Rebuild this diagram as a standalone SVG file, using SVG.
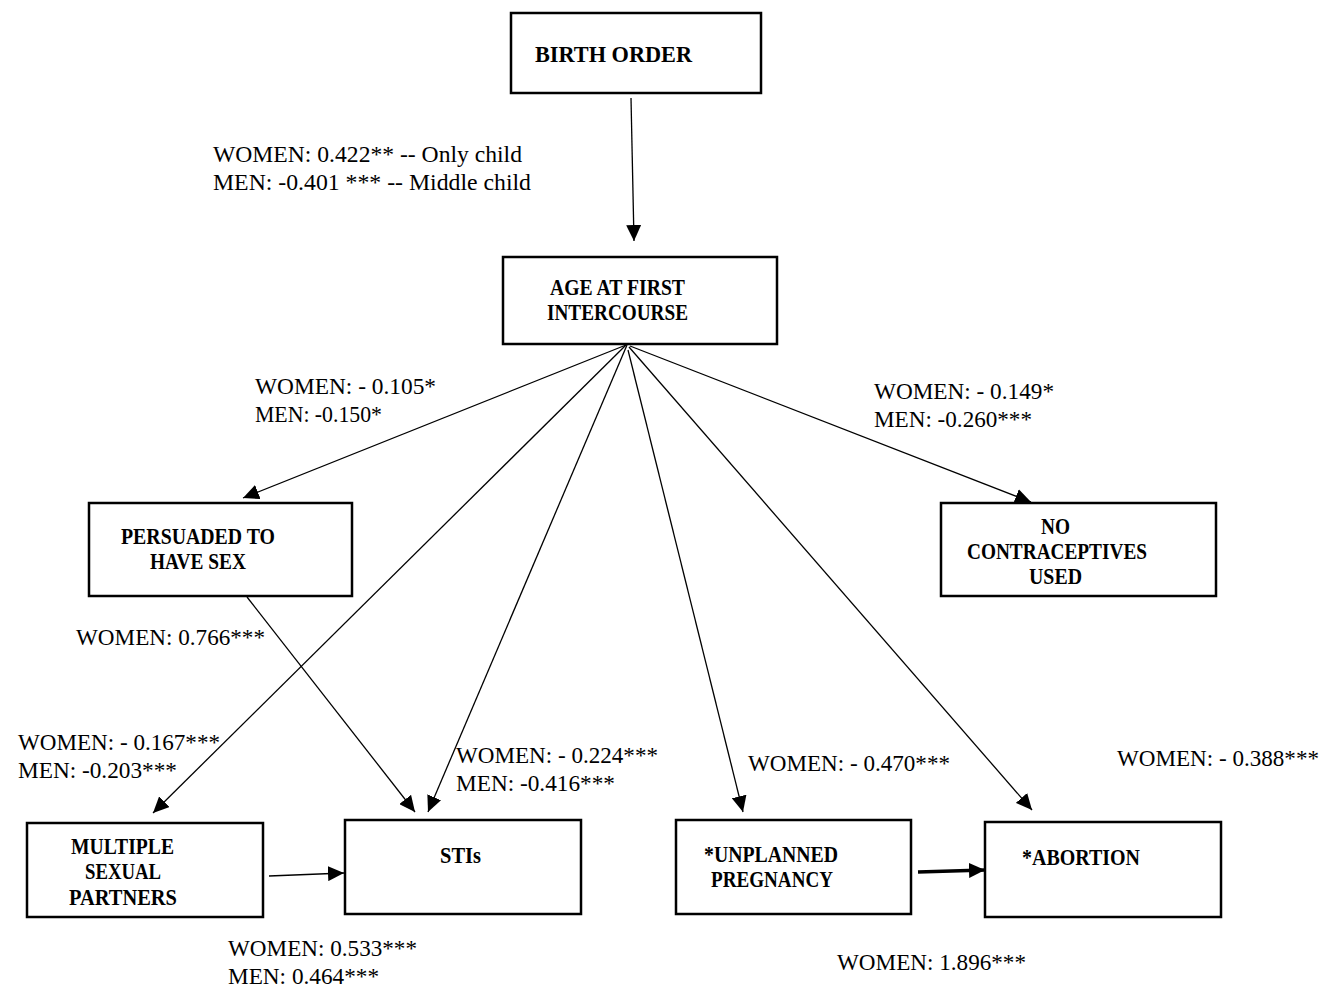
<svg xmlns="http://www.w3.org/2000/svg" width="1332" height="990" viewBox="0 0 1332 990">
<style>
.box{fill:#fff;stroke:#000;stroke-width:2.5}
.nl{font-family:"Liberation Serif","DejaVu Serif",serif;font-weight:bold;font-size:22.5px;fill:#000}
.el{font-family:"Liberation Serif","DejaVu Serif",serif;font-size:23.5px;fill:#000}
.c{stroke:#000;stroke-width:1.3;fill:none}
.thick{stroke:#000;stroke-width:3.5;fill:none}
</style>
<defs>
<marker id="ah" markerUnits="userSpaceOnUse" markerWidth="16" markerHeight="15" refX="16" refY="7.5" orient="auto">
<path d="M0,0 L16,7.5 L0,15 z" fill="#000"/>
</marker>
</defs>
<rect width="1332" height="990" fill="#fff"/>

<g id="connectors">
<line class="c" x1="631" y1="98" x2="634" y2="241" marker-end="url(#ah)"/>
<line class="c" x1="626" y1="345" x2="243" y2="498" marker-end="url(#ah)"/>
<line class="c" x1="626" y1="345" x2="153" y2="813" marker-end="url(#ah)"/>
<line class="c" x1="627" y1="345" x2="428" y2="812" marker-end="url(#ah)"/>
<line class="c" x1="628" y1="350" x2="743" y2="812" marker-end="url(#ah)"/>
<line class="c" x1="629" y1="347" x2="1032" y2="810" marker-end="url(#ah)"/>
<line class="c" x1="630" y1="346" x2="1031" y2="502" marker-end="url(#ah)"/>
<line class="c" x1="247" y1="597" x2="415" y2="812" marker-end="url(#ah)"/>
<line class="c" x1="269" y1="876" x2="344" y2="873" marker-end="url(#ah)"/>
<line class="thick" x1="918" y1="872" x2="985" y2="870" marker-end="url(#ah)"/>
</g>

<g id="birth-order">
<rect class="box" x="511" y="13" width="250" height="80"/>
<text class="nl" x="535" y="62" textLength="157" lengthAdjust="spacingAndGlyphs">BIRTH ORDER</text>
</g>
<g id="age-first-intercourse">
<rect class="box" x="503" y="257" width="274" height="87"/>
<text class="nl" x="550" y="295" textLength="135" lengthAdjust="spacingAndGlyphs">AGE AT FIRST</text>
<text class="nl" x="547" y="320" textLength="141" lengthAdjust="spacingAndGlyphs">INTERCOURSE</text>
</g>
<g id="persuaded">
<rect class="box" x="89" y="503" width="263" height="93"/>
<text class="nl" x="121" y="544" textLength="154" lengthAdjust="spacingAndGlyphs">PERSUADED TO</text>
<text class="nl" x="150" y="569" textLength="96" lengthAdjust="spacingAndGlyphs">HAVE SEX</text>
</g>
<g id="no-contraceptives">
<rect class="box" x="941" y="503" width="275" height="93"/>
<text class="nl" x="1041" y="534" textLength="29" lengthAdjust="spacingAndGlyphs">NO</text>
<text class="nl" x="967" y="559" textLength="180" lengthAdjust="spacingAndGlyphs">CONTRACEPTIVES</text>
<text class="nl" x="1029" y="584" textLength="53" lengthAdjust="spacingAndGlyphs">USED</text>
</g>
<g id="multiple-partners">
<rect class="box" x="27" y="823" width="236" height="94"/>
<text class="nl" x="71" y="854" textLength="103" lengthAdjust="spacingAndGlyphs">MULTIPLE</text>
<text class="nl" x="85" y="879" textLength="76" lengthAdjust="spacingAndGlyphs">SEXUAL</text>
<text class="nl" x="69" y="905" textLength="108" lengthAdjust="spacingAndGlyphs">PARTNERS</text>
</g>
<g id="stis">
<rect class="box" x="345" y="820" width="236" height="94"/>
<text class="nl" x="440" y="863" textLength="41" lengthAdjust="spacingAndGlyphs">STIs</text>
</g>
<g id="unplanned-pregnancy">
<rect class="box" x="676" y="820" width="235" height="94"/>
<text class="nl" x="704" y="862" textLength="134" lengthAdjust="spacingAndGlyphs">*UNPLANNED</text>
<text class="nl" x="711" y="887" textLength="122" lengthAdjust="spacingAndGlyphs">PREGNANCY</text>
</g>
<g id="abortion">
<rect class="box" x="985" y="822" width="236" height="95"/>
<text class="nl" x="1022" y="865" textLength="118" lengthAdjust="spacingAndGlyphs">*ABORTION</text>
</g>

<g id="edge-labels">
<text class="el" x="213" y="162" textLength="309" lengthAdjust="spacingAndGlyphs">WOMEN: 0.422** -- Only child</text>
<text class="el" x="213" y="190" textLength="318" lengthAdjust="spacingAndGlyphs">MEN: -0.401 *** -- Middle child</text>
<text class="el" x="255" y="394" textLength="181" lengthAdjust="spacingAndGlyphs">WOMEN: - 0.105*</text>
<text class="el" x="255" y="422" textLength="127" lengthAdjust="spacingAndGlyphs">MEN: -0.150*</text>
<text class="el" x="874" y="399" textLength="180" lengthAdjust="spacingAndGlyphs">WOMEN: - 0.149*</text>
<text class="el" x="874" y="427" textLength="158" lengthAdjust="spacingAndGlyphs">MEN: -0.260***</text>
<text class="el" x="76" y="645" textLength="189" lengthAdjust="spacingAndGlyphs">WOMEN: 0.766***</text>
<text class="el" x="18" y="750" textLength="202" lengthAdjust="spacingAndGlyphs">WOMEN: - 0.167***</text>
<text class="el" x="18" y="778" textLength="159" lengthAdjust="spacingAndGlyphs">MEN: -0.203***</text>
<text class="el" x="456" y="763" textLength="202" lengthAdjust="spacingAndGlyphs">WOMEN: - 0.224***</text>
<text class="el" x="456" y="791" textLength="159" lengthAdjust="spacingAndGlyphs">MEN: -0.416***</text>
<text class="el" x="748" y="771" textLength="202" lengthAdjust="spacingAndGlyphs">WOMEN: - 0.470***</text>
<text class="el" x="1117" y="766" textLength="202" lengthAdjust="spacingAndGlyphs">WOMEN: - 0.388***</text>
<text class="el" x="228" y="956" textLength="189" lengthAdjust="spacingAndGlyphs">WOMEN: 0.533***</text>
<text class="el" x="228" y="984" textLength="151" lengthAdjust="spacingAndGlyphs">MEN: 0.464***</text>
<text class="el" x="837" y="970" textLength="189" lengthAdjust="spacingAndGlyphs">WOMEN: 1.896***</text>
</g>
</svg>
